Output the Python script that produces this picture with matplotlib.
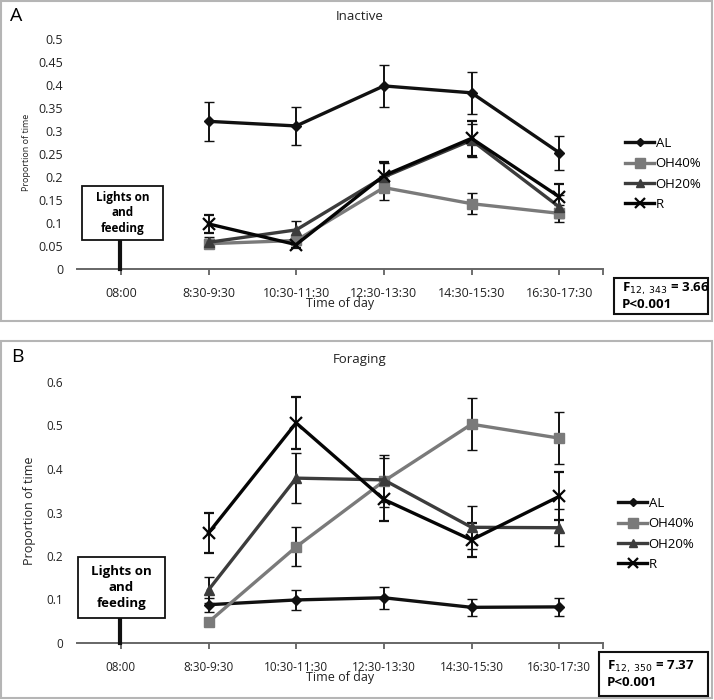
import matplotlib
matplotlib.use("Agg")
import matplotlib.pyplot as plt
from matplotlib.patches import Rectangle
from matplotlib.lines import Line2D
import numpy as np

plt.rcParams['font.family'] = ['Open Sans', 'DejaVu Sans']

categories = ["08:00", "8:30-9:30", "10:30-11:30", "12:30-13:30", "14:30-15:30", "16:30-17:30"]
series_names = ["AL", "OH40%", "OH20%", "R"]

# Panel A: Inactive (values for the 5 observation periods; 08:00 has no data)
inactive_AL = [0.321, 0.311, 0.398, 0.383, 0.253]
inactive_AL_err = [0.042, 0.041, 0.046, 0.046, 0.037]
inactive_OH40 = [0.055, 0.062, 0.177, 0.142, 0.121]
inactive_OH40_err = [0.010, 0.010, 0.026, 0.023, 0.018]
inactive_OH20 = [0.058, 0.085, 0.200, 0.280, 0.135]
inactive_OH20_err = [0.012, 0.020, 0.030, 0.036, 0.025]
inactive_R = [0.098, 0.053, 0.203, 0.284, 0.157]
inactive_R_err = [0.020, 0.008, 0.030, 0.038, 0.027]

# Panel B: Foraging
forage_AL = [0.088, 0.099, 0.104, 0.082, 0.083]
forage_AL_err = [0.016, 0.022, 0.025, 0.020, 0.020]
forage_OH40 = [0.048, 0.221, 0.372, 0.503, 0.471]
forage_OH40_err = [0.010, 0.045, 0.060, 0.060, 0.060]
forage_OH20 = [0.122, 0.379, 0.375, 0.266, 0.265]
forage_OH20_err = [0.030, 0.058, 0.050, 0.050, 0.043]
forage_R = [0.253, 0.506, 0.330, 0.237, 0.337]
forage_R_err = [0.046, 0.060, 0.050, 0.040, 0.055]

colors = {"AL": "#111111", "OH40%": "#7a7a7a", "OH20%": "#3c3c3c", "R": "#050505"}
markers = {"AL": "D", "OH40%": "s", "OH20%": "^", "R": "x"}
msizes = {"AL": 5, "OH40%": 7.5, "OH20%": 7, "R": 8}

W, H = 714, 700
fig = plt.figure(figsize=(W / 100, H / 100), dpi=100)

def fx(px):
    return px / W

def fy(py):
    return 1 - py / H

# panel frames
for (x0, y0, x1, y1) in [(1, 1, 712, 321), (1, 341, 712, 698)]:
    fig.patches.append(Rectangle((fx(x0), fy(y1)), fx(x1) - fx(x0), fy(y0) - fy(y1),
                                 transform=fig.transFigure, fill=False,
                                 edgecolor="#b5b5b5", linewidth=1.5))


def make_panel(top_px, bot_px, ymax, ystep, data, title, title_y, label, label_xy,
               ylab_size, ylab_x, lights_box, lights_fs, legend_y, legend_x,
               stat_box, stat_text, xlabel_y, tick_fs):
    ax = fig.add_axes([fx(77), fy(bot_px), fx(603) - fx(77), fy(top_px) - fy(bot_px)])
    x = np.arange(1, 6)
    handles = []
    for name, (vals, errs) in data.items():
        ax.errorbar(x, vals, yerr=errs, color=colors[name], ecolor="#111111",
                    elinewidth=1.4, capsize=3.5, capthick=1.4, lw=2.4,
                    marker=markers[name], ms=msizes[name], mew=1.6 if name == "R" else 1,
                    mec=colors[name], mfc=colors[name], zorder=3)
        handles.append(Line2D([], [], color=colors[name], lw=2.4, marker=markers[name],
                              ms=msizes[name] * 0.9, mew=1.6 if name == "R" else 1,
                              mec=colors[name], mfc=colors[name], label=name))
    ax.set_xlim(-0.5, 5.5)
    ax.set_ylim(0, ymax)
    ticks = np.round(np.arange(0, ymax + 1e-9, ystep), 3)
    ax.set_yticks(ticks)
    ax.set_yticklabels([("%g" % t) for t in ticks], fontsize=tick_fs, color="#222222")
    ax.tick_params(axis="y", length=0, pad=10)
    ax.set_xticks(np.arange(6))
    ax.set_xticklabels(categories, fontsize=tick_fs, color="#222222")
    ax.set_xticks([5.5], minor=True)
    ax.tick_params(axis="x", which="both", length=4, width=1.2, color="#555555",
                   direction="out", pad=9)
    for s in ["left", "top", "right"]:
        ax.spines[s].set_visible(False)
    ax.spines["bottom"].set_color("#666666")
    ax.spines["bottom"].set_linewidth(1.4)
    ax.patch.set_alpha(0)

    # lights box and pointer
    bx0, by0, bx1, by1 = lights_box
    fig.patches.append(Rectangle((fx(bx0), fy(by1)), fx(bx1) - fx(bx0), fy(by0) - fy(by1),
                                 transform=fig.transFigure, facecolor="white",
                                 edgecolor="#111111", linewidth=1.3, zorder=5))
    fig.text(fx((bx0 + bx1) / 2), fy((by0 + by1) / 2), "Lights on\nand\nfeeding",
             ha="center", va="center", fontsize=lights_fs, fontweight="bold",
             linespacing=1.25, zorder=6)
    fig.lines.append(Line2D([fx(120), fx(120)], [fy(by1), fy(bot_px)],
                            transform=fig.transFigure, color="#111111", lw=3))

    fig.text(fx(360), fy(title_y), title, ha="center", va="center", fontsize=9.5, color="#222222")
    fig.text(fx(label_xy[0]), fy(label_xy[1]), label, ha="center", va="center", fontsize=14)
    fig.text(fx(ylab_x), fy((top_px + bot_px) / 2 - 2), "Proportion of time", rotation=90,
             ha="center", va="center", fontsize=ylab_size, color="#222222")
    fig.text(fx(340), fy(xlabel_y), "Time of day", ha="center", va="center",
             fontsize=9, color="#222222")

    ax.legend(handles=handles, loc="center left", bbox_to_anchor=(fx(legend_x), fy(legend_y)),
              bbox_transform=fig.transFigure, frameon=False, fontsize=9.5,
              handlelength=2.2, handletextpad=0.1, labelspacing=0.55,
              borderaxespad=0)

    sx0, sy0, sx1, sy1 = stat_box
    fig.patches.append(Rectangle((fx(sx0), fy(sy1)), fx(sx1) - fx(sx0), fy(sy0) - fy(sy1),
                                 transform=fig.transFigure, facecolor="white",
                                 edgecolor="#111111", linewidth=1.5, zorder=5))
    fig.text(fx(sx0 + 8), fy((sy0 + sy1) / 2), stat_text, ha="left", va="center",
             fontsize=9.5, fontweight="bold", linespacing=1.1, zorder=6)
    return ax


make_panel(39, 269, 0.5, 0.05,
           {"AL": (inactive_AL, inactive_AL_err),
            "OH40%": (inactive_OH40, inactive_OH40_err),
            "OH20%": (inactive_OH20, inactive_OH20_err),
            "R": (inactive_R, inactive_R_err)},
           "Inactive", 17, "A", (16, 16), 6.5, 27,
           (82, 186, 163, 240), 8.5, 174, 620,
           (614, 278, 708, 314), "F$_{12,\\ 343}$ = 3.66\nP<0.001", 304, 9)

make_panel(382, 643, 0.6, 0.1,
           {"AL": (forage_AL, forage_AL_err),
            "OH40%": (forage_OH40, forage_OH40_err),
            "OH20%": (forage_OH20, forage_OH20_err),
            "R": (forage_R, forage_R_err)},
           "Foraging", 360, "B", (17, 357), 9, 30,
           (78, 557, 165, 618), 9.5, 534, 613,
           (599, 652, 708, 696), "F$_{12,\\ 350}$ = 7.37\nP<0.001", 677, 8.5)

fig.savefig("out.png", dpi=100)
